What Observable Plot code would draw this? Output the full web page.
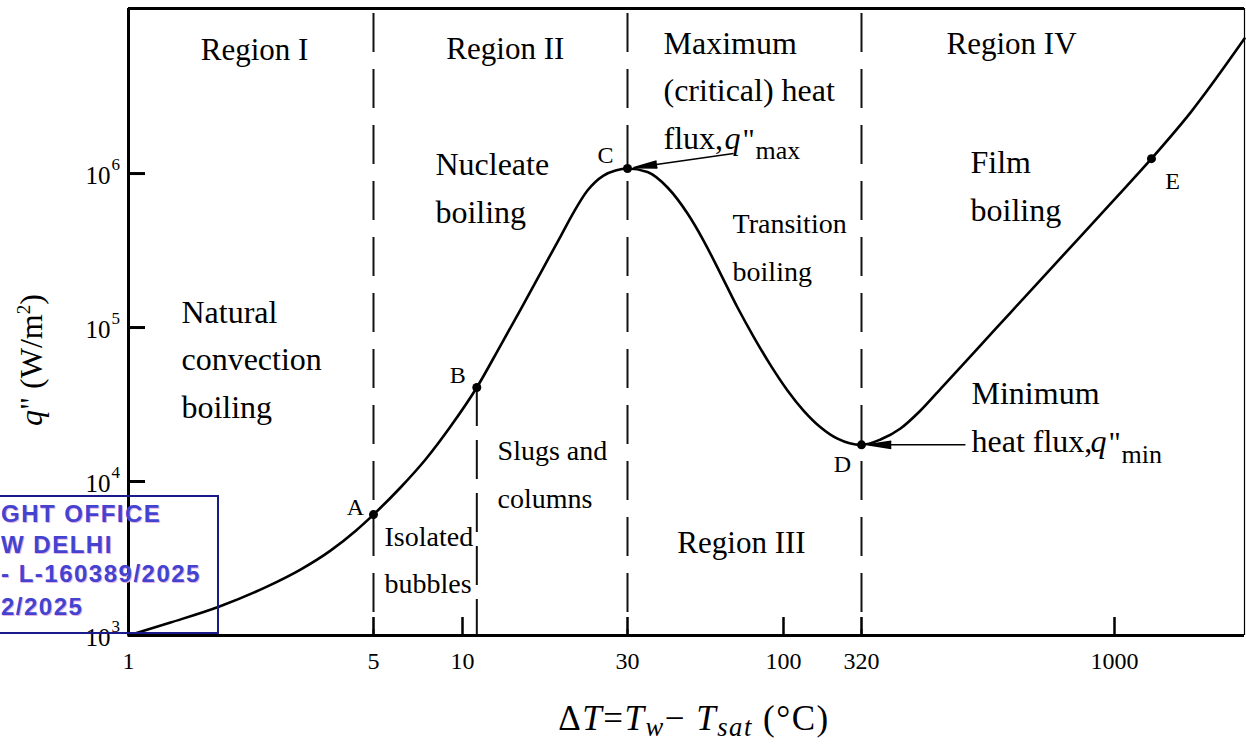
<!DOCTYPE html>
<html>
<head>
<meta charset="utf-8">
<script src="https://cdn.jsdelivr.net/npm/d3@7"></script>
<script src="https://cdn.jsdelivr.net/npm/@observablehq/plot@0.6"></script>
<style>
html, body { margin: 0; padding: 0; background: #fff; }
#wrap { position: relative; width: 1246px; height: 748px; overflow: hidden; font-family: "Liberation Serif", "Times New Roman", serif; color: #000; }
#chart svg { display: block; }
.ov { position: absolute; white-space: nowrap; }
#ylab { left: 31px; top: 360px; font-size: 32px; line-height: 32px; transform: translate(-50%, -50%) rotate(-90deg); }
#xlab { left: 694px; top: 701px; font-size: 35px; line-height: 35px; letter-spacing: 1.5px; transform: translateX(-50%); }
#xlab sub { font-size: 0.76em; vertical-align: -0.22em; line-height: 0; }
#ylab sup { font-size: 0.6em; vertical-align: 0.6em; line-height: 0; }
#stamp { position: absolute; left: -10px; top: 495px; width: 229px; height: 139px; box-sizing: border-box; border: 2px solid #1a1a8a; }
.st { position: absolute; left: 1px; font-family: "Liberation Sans", Arial, sans-serif; font-weight: bold; font-size: 24px; line-height: 24px; letter-spacing: 1.5px; color: #4343cf; text-shadow: 1px 1px 0 #e4b4e4; white-space: nowrap; }
</style>
</head>
<body>
<div id="wrap">
  <div id="chart"></div>
  <div class="ov" id="ylab"><i>q</i>" (W/m<sup>2</sup>)</div>
  <div class="ov" id="xlab">&#916;<i>T</i>=<i>T</i><sub><i>w</i></sub>&#8722; <i>T</i><sub><i>sat</i></sub> (&#176;C)</div>
  <div id="stamp"></div>
  <div class="st" style="top:502px;">GHT OFFICE</div>
  <div class="st" style="top:533px;">W DELHI</div>
  <div class="st" style="top:562px;">- L-160389/2025</div>
  <div class="st" style="top:595px;">2/2025</div>
</div>
<script>
// ---- data ----
const xTicks = [1, 5, 10, 30, 100, 320, 1000];
const yTicks = [1e3, 1e4, 1e5, 1e6];

// boiling curve: wall superheat (°C) and heat flux (W/m2)
const deltaT = [1, 1.318, 1.818, 2.492, 3.095, 3.77, 4.443, 5, 6.171, 7.497, 9.108, 11,
  12.88, 14.72, 17.15, 19.2, 20.94, 22.98, 25.57, 27.7, 30,
  35.01, 40.86, 47.68, 53.94, 61.49, 70.13, 79.33, 90.46, 106.1, 134.8, 173.7, 223.7, 320,
  348.6, 381.5, 417.5, 463.1, 539.7, 626.2, 726.6, 847, 982.6, 1182, 1410, 1800];
const heatFlux = [1000, 1214, 1543, 2084, 2679, 3558, 4777, 6100, 9143, 13900, 22760, 40800,
  76410, 130900, 245200, 389900, 558200, 775700, 970500, 1046000, 1078000,
  1022700, 811600, 549900, 367300, 224200, 134900, 87410, 57000, 39040, 28910, 22520, 18970, 17300,
  18740, 22090, 28910, 42020, 73050, 125200, 214400, 372800, 638600, 1250000, 2489000, 7525000];

const pointNames = ["A", "B", "C", "D", "E"];
const pointDeltaT = [5, 11, 30, 320, 1182];
const pointFlux = [6100, 40800, 1078000, 17300, 1250000];

const regionBounds = [5, 30, 320];

const regionLabels = ["Region I", "Region II", "Region III", "Region IV"];
const regionLabelDeltaT = [2.29, 13.3, 72.3, 629];
const regionLabelFlux = [5.5e6, 5.58e6, 3410, 6.0e6];

const noteTexts = ["Natural\nconvection\nboiling", "Nucleate\nboiling", "Maximum\n(critical) heat\nflux,", "Film\nboiling", "Minimum\nheat flux,"];
const noteDeltaT = [1.416, 8.10, 39.6, 522.8, 525.2];
const noteFlux = [26040, 480600, 1.453e6, 495200, 15660];

const smallNoteTexts = ["Transition\nboiling", "Slugs and\ncolumns", "Isolated\nbubbles"];
const smallNoteDeltaT = [67.5, 12.63, 5.447];
const smallNoteFlux = [201900, 6779, 1874];

const arrowFromDeltaT = [68, 511];
const arrowFromFlux = [1.349e6, 17300];
const arrowToPoint = [2, 3]; // C and D

// ---- tables built from the arrays ----
const curve = deltaT.map((x, i) => ({x, q: heatFlux[i]}));
const points = pointNames.map((name, i) => ({name, x: pointDeltaT[i], q: pointFlux[i]}));
const regions = regionLabels.map((text, i) => ({text, x: regionLabelDeltaT[i], q: regionLabelFlux[i]}));
const notes = noteTexts.map((text, i) => ({text, x: noteDeltaT[i], q: noteFlux[i]}));
const smallNotes = smallNoteTexts.map((text, i) => ({text, x: smallNoteDeltaT[i], q: smallNoteFlux[i]}));
const arrows = arrowFromDeltaT.map((x1, i) => ({x1, q1: arrowFromFlux[i], x2: pointDeltaT[arrowToPoint[i]], q2: pointFlux[arrowToPoint[i]]}));

const xMin = 1, xMax = 1800, yMin = 1e3, yMax = 1.18e7;

const labelOffsets = {A: [-18, -7], B: [-19, -12], C: [-22, -13], D: [-19, 19], E: [21, 23]};
const qMax = notes[2], qMin = notes[4];

const serif = "'Liberation Serif', 'Times New Roman', serif";
const sym = (anchor, text, dx, dy, fontSize, fontStyle) =>
  Plot.text([anchor], {x: "x", y: "q", text: () => text, fontSize, fontStyle, textAnchor: "start", lineAnchor: "bottom", dx, dy});

const chart = Plot.plot({
  width: 1246,
  height: 690,
  marginLeft: 128,
  marginRight: 2,
  marginTop: 8,
  marginBottom: 55,
  style: {fontFamily: serif, fontSize: "24px", background: "white", color: "black", overflow: "visible"},
  x: {type: "log", domain: [1, 5, 10, 30, 100, 320, 1000, 1800], range: [128, 373, 462, 627, 783, 861, 1114, 1244], label: null},
  y: {type: "log", domain: [yMin, yMax], label: null},
  marks: [
    // region boundaries
    Plot.ruleX(regionBounds, {stroke: "#111", strokeWidth: 2, strokeDasharray: "39,17", strokeDashoffset: -5}),
    Plot.ruleX([points[1]], {x: "x", y1: "q", y2: () => yMin, stroke: "#111", strokeWidth: 2, strokeDasharray: "39,14"}),
    // frame
    Plot.ruleY([yMin], {strokeWidth: 3}),
    Plot.ruleY([yMax], {strokeWidth: 3}),
    Plot.ruleX([xMin], {strokeWidth: 3}),
    Plot.ruleX([xMax], {strokeWidth: 1.2}),
    // curve and points
    Plot.line(curve, {x: "x", y: "q", curve: "monotone-x", stroke: "black", strokeWidth: 2.6}),
    Plot.dot(points, {x: "x", y: "q", r: 4.5, fill: "black", stroke: null}),
    ...points.map(p => Plot.text([p], {x: "x", y: "q", text: "name", fontSize: 24, dx: labelOffsets[p.name][0], dy: labelOffsets[p.name][1]})),
    // arrows to C and D
    Plot.arrow(arrows, {x1: "x1", y1: "q1", x2: "x2", y2: "q2", insetEnd: 6, headLength: 24, headAngle: 17, strokeWidth: 1.5, stroke: "black", fill: "black", strokeLinecap: "butt", strokeLinejoin: "miter"}),
    // labels
    Plot.text(regions, {x: "x", y: "q", text: "text", fontSize: 31, textAnchor: "middle", lineAnchor: "bottom"}),
    Plot.text(notes, {x: "x", y: "q", text: "text", fontSize: 32, textAnchor: "start", lineAnchor: "bottom", lineHeight: 1.48}),
    Plot.text(smallNotes, {x: "x", y: "q", text: "text", fontSize: 28, textAnchor: "start", lineAnchor: "bottom", lineHeight: 1.69}),
    // q" max / q" min symbols
    sym(qMax, "q", 61, 0, 32, "italic"),
    sym(qMax, "\"", 79, 0, 30),
    sym(qMax, "max", 92, 10, 26),
    sym(qMin, "q", 119, 0, 32, "italic"),
    sym(qMin, "\"", 137, 0, 30),
    sym(qMin, "min", 150, 11, 26),
    // axes
    Plot.axisX({ticks: xTicks, tickFormat: () => "", tickSize: -18, tickPadding: 0, strokeWidth: 2.5}),
    Plot.text(xTicks, {x: d => d, frameAnchor: "bottom", text: d => String(d), lineAnchor: "top", dy: 16, fontSize: 24}),
    Plot.axisY({ticks: yTicks, tickFormat: () => "", tickSize: -17, tickPadding: 0, strokeWidth: 3}),
    Plot.text(yTicks, {y: d => d, frameAnchor: "left", text: () => "10", textAnchor: "end", dx: -18, dy: 2, fontSize: 25}),
    Plot.text(yTicks, {y: d => d, frameAnchor: "left", text: d => String(Math.round(Math.log10(d))), textAnchor: "start", dx: -17, dy: -9, fontSize: 17})
  ]
});
document.getElementById("chart").appendChild(chart);
</script>
</body>
</html>
